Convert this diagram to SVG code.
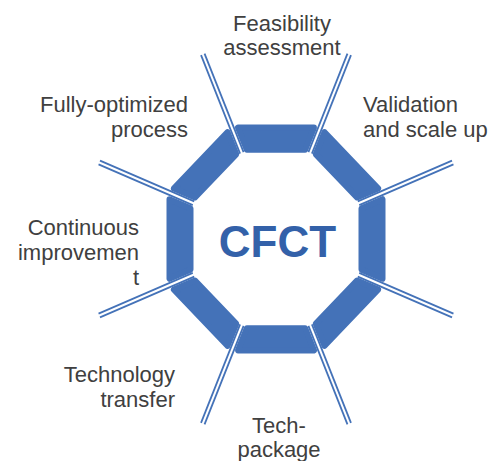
<svg xmlns="http://www.w3.org/2000/svg" width="492" height="461" viewBox="0 0 492 461">
<style>
.seg{fill:#4472B8;stroke:#4472B8;stroke-width:6;stroke-linejoin:round}
.sp{stroke:#4472B8;stroke-width:1.8;fill:none}
.lbl{font-family:"Liberation Sans",Arial,sans-serif;font-size:22px;fill:#404040}
.ctr{font-family:"Liberation Sans",Arial,sans-serif;font-size:44px;font-weight:bold;fill:#3361A9}
</style>
<defs>
<polygon id="segshape" class="seg" points="-37.95,-106.5 37.95,-106.5 29.25,-85.5 -29.25,-85.5"/>
<g id="spokeshape" class="sp">
<line x1="-32.42" y1="-83.23" x2="-71.45" y2="-177.47"/>
<line x1="-35.93" y1="-81.77" x2="-74.96" y2="-176.01"/>
</g>
</defs>
<g id="ring" transform="translate(276,239) scale(1,1.045)">
<use href="#segshape"/>
<use href="#segshape" transform="rotate(45)"/>
<use href="#segshape" transform="rotate(90)"/>
<use href="#segshape" transform="rotate(135)"/>
<use href="#segshape" transform="rotate(180)"/>
<use href="#segshape" transform="rotate(225)"/>
<use href="#segshape" transform="rotate(270)"/>
<use href="#segshape" transform="rotate(315)"/>
</g>
<g id="connectors" transform="translate(276,239) scale(1,1.045)">
<use href="#spokeshape"/>
<use href="#spokeshape" transform="rotate(45)"/>
<use href="#spokeshape" transform="rotate(90)"/>
<use href="#spokeshape" transform="rotate(135)"/>
<use href="#spokeshape" transform="rotate(180)"/>
<use href="#spokeshape" transform="rotate(225)"/>
<use href="#spokeshape" transform="rotate(270)"/>
<use href="#spokeshape" transform="rotate(315)"/>
</g>
<g id="center"><text class="ctr" x="277.5" y="257" text-anchor="middle">CFCT</text></g>
<g id="feasibility"><text class="lbl" text-anchor="middle"><tspan x="282" y="31">Feasibility</tspan><tspan x="282" y="55">assessment</tspan></text></g>
<g id="validation"><text class="lbl" text-anchor="start"><tspan x="363" y="112">Validation</tspan><tspan x="363" y="137">and scale up</tspan></text></g>
<g id="techpackage"><text class="lbl" text-anchor="middle"><tspan x="279" y="433">Tech-</tspan><tspan x="279" y="457">package</tspan></text></g>
<g id="techtransfer"><text class="lbl" text-anchor="end"><tspan x="175" y="382">Technology</tspan><tspan x="175" y="407">transfer</tspan></text></g>
<g id="continuous"><text class="lbl" text-anchor="end"><tspan x="139" y="235">Continuous</tspan><tspan x="139" y="260">improvemen</tspan><tspan x="139" y="285">t</tspan></text></g>
<g id="optimized"><text class="lbl" text-anchor="end"><tspan x="188" y="112">Fully-optimized</tspan><tspan x="188" y="137">process</tspan></text></g>
</svg>
